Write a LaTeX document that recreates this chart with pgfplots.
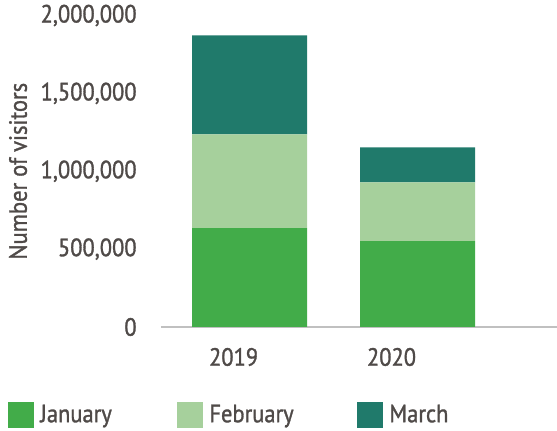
\documentclass[border=0pt]{standalone}
\usepackage{fontspec}
\setmainfont{PT Sans}[FakeBold=1.2, FakeStretch=0.9]
\usepackage{pgfplots}
\pgfplotsset{compat=1.18}
\definecolor{jancol}{RGB}{66,172,73}
\definecolor{febcol}{RGB}{166,208,156}
\definecolor{marcol}{RGB}{32,122,107}
\definecolor{txtcol}{RGB}{79,74,72}
\definecolor{axcol}{RGB}{192,192,192}
\begin{document}
\begin{tikzpicture}
  % fixes the page to 557 x 431 px (1 px = 0.5 pt)
  \useasboundingbox (-80.5pt,-52pt) rectangle (198pt,163.5pt);
  \begin{axis}[
    scale only axis,
    width=198pt, height=155.75pt,
    ybar stacked, bar width=57.5pt,
    xmin=-0.527, xmax=1.83,
    ymin=0, ymax=2000000,
    xtick={-0.095,0.845},
    xticklabels={2019,2020},
    ytick={0,500000,1000000,1500000,2000000},
    yticklabels={0,{500,000},{1,000,000},{1,500,000},{2,000,000}},
    scaled y ticks=false,
    axis x line*=bottom, axis y line*=left,
    x axis line style={axcol, line width=0.75pt, -},
    y axis line style={draw=none},
    major tick length=0pt,
    font=\fontsize{12.5}{14}\selectfont,
    every tick label/.append style={text=txtcol},
    yticklabel style={anchor=east, inner sep=0pt, xshift=-12pt},
    xticklabel style={anchor=center, inner sep=0pt, yshift=-15pt},
    ylabel={Number of visitors},
    ylabel style={text=txtcol, at={(axis description cs:-0.361,0.5)}, anchor=center, rotate=0},
    legend columns=3,
    legend cell align=left,
    legend style={at={(axis description cs:-0.3864,-0.2825)}, anchor=west,
      draw=none, inner sep=0pt, text=txtcol,
      nodes={inner sep=0pt},
      /tikz/every odd column/.append style={column sep=3pt}},
    legend image code/.code={\fill[#1] (0pt,-6.5pt) rectangle (13pt,6.5pt);},
  ]
    \addplot[fill=jancol, draw=none] coordinates {(0,635000) (1,551000)};
    \addlegendentry{\makebox[68.5pt][l]{January}}
    \addplot[fill=febcol, draw=none] coordinates {(0,602000) (1,378000)};
    \addlegendentry{\makebox[74pt][l]{February}}
    \addplot[fill=marcol, draw=none] coordinates {(0,635000) (1,225000)};
    \addlegendentry{March}
  \end{axis}
\end{tikzpicture}
\end{document}
